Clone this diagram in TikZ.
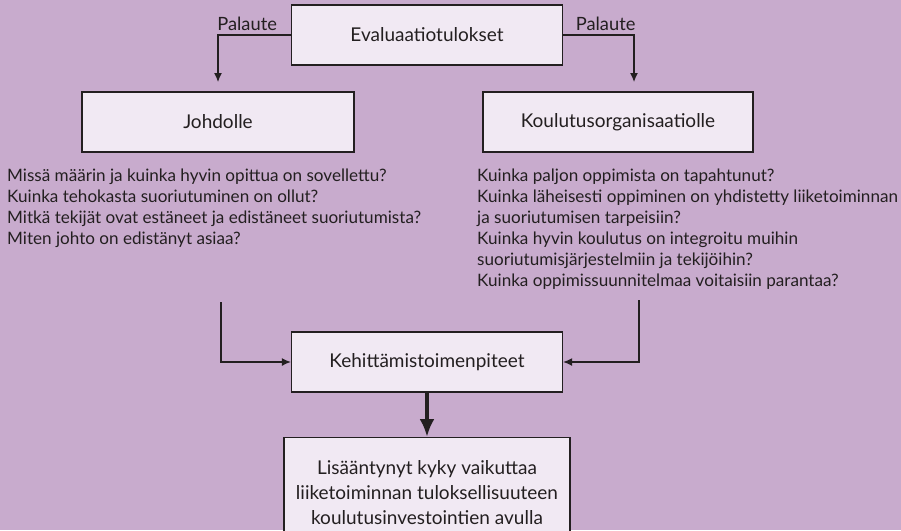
\documentclass[tikz,border=0pt]{standalone}
\usepackage{fontspec}
\setmainfont{Lato}
\usetikzlibrary{arrows.meta, positioning}
\definecolor{bgpurple}{HTML}{C8ABCD}
\definecolor{boxfill}{HTML}{F1E9F3}
\definecolor{inkgray}{HTML}{231F20}
\tikzset{
  block/.style={rectangle, draw=inkgray, fill=boxfill, line width=1.3pt,
                minimum width=271pt, minimum height=60pt,
                align=center, text=inkgray,
                font=\fontsize{19}{25}\selectfont},
  qtext/.style={anchor=north west, inner sep=0pt, align=left, text=inkgray,
                font=\fontsize{17.1}{21}\selectfont},
  fblabel/.style={above, text=inkgray, font=\fontsize{18.3}{21}\selectfont},
  arrow/.style={-{Latex[length=9pt, width=8pt]}, line width=1.2pt, draw=inkgray},
  bigarrow/.style={-{Latex[length=18pt, width=15pt]}, line width=4.5pt, draw=inkgray}
}

\begin{document}
\begin{tikzpicture}[x=1pt, y=-1pt]
\useasboundingbox (0,0) rectangle (901,530);
\clip (0,0) rectangle (901,530);
\fill[bgpurple] (0,0) rectangle (901,530);

% Row 1: evaluation results
\node[block] (Eval) at (427,35) {Evaluaatiotulokset};

% Row 2: management + training organisation
\node[block, minimum width=272pt] (Johdolle) at (218,122) {Johdolle};
\node[block, minimum width=270pt] (KoulOrg) at (618,122) {Koulutusorganisaatiolle};

% Row 3: questions
\node[qtext] (JohdQ) at (7,169) {Missä määrin ja kuinka hyvin opittua on sovellettu?\\
Kuinka tehokasta suoriutuminen on ollut?\\
Mitkä tekijät ovat estäneet ja edistäneet suoriutumista?\\
Miten johto on edistänyt asiaa?};
\node[qtext] (KoulQ) at (477,169) {Kuinka paljon oppimista on tapahtunut?\\
Kuinka läheisesti oppiminen on yhdistetty liiketoiminnan\\
ja suoriutumisen tarpeisiin?\\
Kuinka hyvin koulutus on integroitu muihin\\
suoriutumisjärjestelmiin ja tekijöihin?\\
Kuinka oppimissuunnitelmaa voitaisiin parantaa?};

% Row 4: development actions
\node[block] (Kehit) at (427,362) {Kehittämistoimenpiteet};

% Row 5: outcome
\node[block, minimum width=286pt, minimum height=110pt, anchor=north] (Tulos) at (427,437)
      {Lisääntynyt kyky vaikuttaa\\liiketoiminnan tuloksellisuuteen\\koulutusinvestointien avulla};

% free ends of the connectors
\coordinate (FbLeft) at (218,82);
\coordinate (FbRight) at (634,82);
\coordinate (InLeft) at (221,302);
\coordinate (InRight) at (639,300);

% --- Connections ---
% Eval -> Johdolle, KoulOrg
\draw[arrow] (Eval.west) -| (FbLeft) node[pos=0.3, fblabel] {Palaute};
\draw[arrow] (Eval.east) -| (FbRight) node[pos=0.3, fblabel] {Palaute};

% questions -> Kehit
\draw[arrow] (InLeft) |- (Kehit.west);
\draw[arrow] (InRight) |- (Kehit.east);

% Kehit -> Tulos
\draw[bigarrow] (Kehit.south) -- (Tulos.north);

\end{tikzpicture}
\end{document}
